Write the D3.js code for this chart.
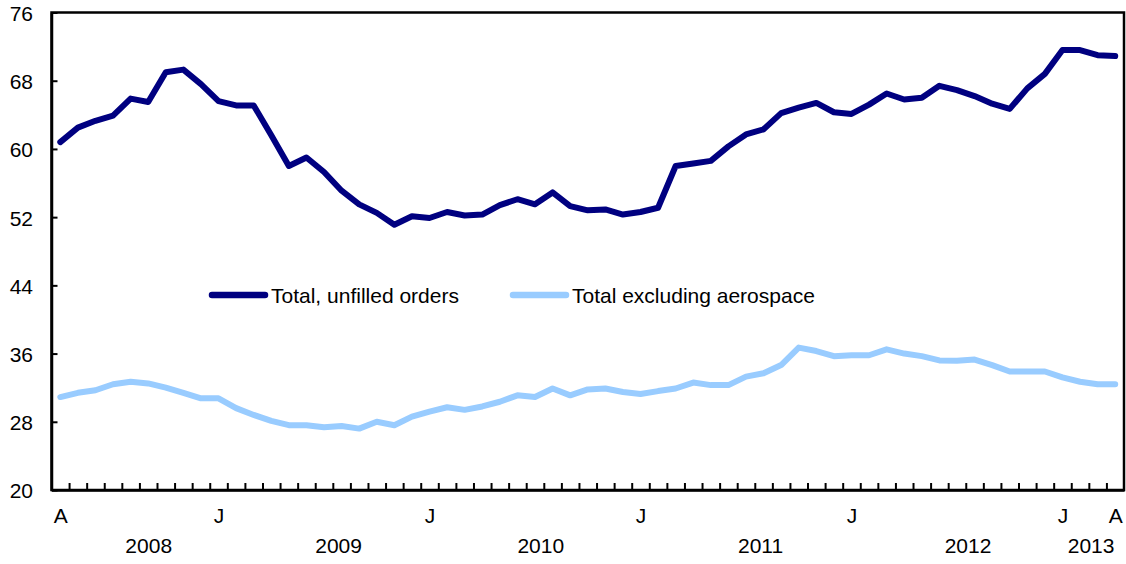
<!DOCTYPE html>
<html>
<head>
<meta charset="utf-8">
<script src="https://cdn.jsdelivr.net/npm/d3@7"></script>
<style>
  body { margin: 0; background: #ffffff; }
  svg { display: block; }
</style>
</head>
<body>
<script>
// monthly, April 2008 to April 2013 (billions of dollars)
var months = d3.range(61);
var unfilled = [
  60.8, 62.5, 63.3, 63.9, 65.9, 65.5, 69.0, 69.3, 67.6, 65.6,
  65.1, 65.1, 61.6, 58.0, 59.0, 57.3, 55.1, 53.5, 52.5, 51.1,
  52.1, 51.9, 52.6, 52.2, 52.3, 53.4, 54.1, 53.5, 54.9, 53.3,
  52.8, 52.9, 52.3, 52.6, 53.1, 58.0, 58.3, 58.6, 60.3, 61.7,
  62.3, 64.2, 64.85, 65.4, 64.3, 64.1, 65.2, 66.5, 65.8, 66.0,
  67.4, 66.9, 66.2, 65.3, 64.7, 67.1, 68.8, 71.6, 71.6, 71.0,
  70.9
];
var exAerospace = [
  30.9, 31.4, 31.7, 32.4, 32.7, 32.5, 32.0, 31.4, 30.75, 30.75,
  29.6, 28.8, 28.1, 27.6, 27.6, 27.35, 27.5, 27.2, 28.0, 27.6,
  28.6, 29.2, 29.7, 29.4, 29.8, 30.35, 31.1, 30.9, 31.9, 31.1,
  31.8, 31.9, 31.5, 31.25, 31.6, 31.9, 32.6, 32.3, 32.3, 33.3,
  33.7, 34.65, 36.7, 36.3, 35.7, 35.8, 35.8, 36.5, 36.0, 35.7,
  35.2, 35.15, 35.3, 34.65, 33.9, 33.9, 33.9, 33.2, 32.7, 32.4,
  32.4
];
var yTicks = [20, 28, 36, 44, 52, 60, 68, 76];
var monthTickAt = [0, 9, 21, 33, 45, 57, 60];
var monthTickText = ["A", "J", "J", "J", "J", "J", "A"];
var yearText = ["2008", "2009", "2010", "2011", "2012", "2013"];
var yearAt = [5, 15.8, 27.3, 39.8, 51.6, 58.6];
var seriesNames = ["Total, unfilled orders", "Total excluding aerospace"];
var seriesColors = ["#000080", "#99ccff"];

var w = 1126;
var h = 564;
var plotLeft = 51.5, plotRight = 1124, plotTop = 12.5, plotBottom = 490;
var font = "'Liberation Sans', Arial, Helvetica, sans-serif";

var svg = d3.select("body").append("svg").attr("width", w).attr("height", h);

var x = d3.scaleLinear().domain([-0.5, 60.5]).range([plotLeft, plotRight]);
var y = d3.scaleLinear().domain([20, 76]).range([plotBottom, plotTop]);

// frame
svg.append("rect")
  .attr("x", plotLeft)
  .attr("y", plotTop)
  .attr("width", plotRight - plotLeft)
  .attr("height", plotBottom - plotTop)
  .attr("fill", "none")
  .attr("stroke", "#000")
  .attr("stroke-width", 2.5);

// y axis, ticks pointing inward
var yAxis = svg.append("g")
  .attr("transform", "translate(" + plotLeft + ",0)")
  .call(d3.axisLeft(y).tickValues(yTicks).tickSizeInner(-6).tickSizeOuter(0).tickPadding(18.5));
yAxis.select(".domain").attr("stroke-width", 2.5);
yAxis.selectAll(".tick line").attr("stroke-width", 2);
yAxis.selectAll("text")
  .attr("dy", "0.38em")
  .attr("font-family", font)
  .attr("font-size", 21)
  .attr("fill", "#000");

// month tick marks between months
var monthMarks = d3.range(60).map(function (d) { return d + 0.5; });
var xMinor = svg.append("g")
  .attr("transform", "translate(0," + plotBottom + ")")
  .call(d3.axisBottom(x).tickValues(monthMarks).tickSizeInner(-7).tickSizeOuter(0).tickFormat(""));
xMinor.select(".domain").attr("stroke-width", 2.5);
xMinor.selectAll(".tick line").attr("stroke-width", 2);

// month letters
var xAxis = svg.append("g")
  .attr("transform", "translate(0," + plotBottom + ")")
  .call(d3.axisBottom(x).tickValues(monthTickAt).tickSize(0)
    .tickFormat(function (d, i) { return monthTickText[i]; }));
xAxis.select(".domain").remove();
xAxis.selectAll("text")
  .attr("y", 33)
  .attr("dy", 0)
  .attr("font-family", font)
  .attr("font-size", 21)
  .attr("fill", "#000");

// year labels
var yearAxis = svg.append("g")
  .attr("transform", "translate(0," + plotBottom + ")")
  .call(d3.axisBottom(x).tickValues(yearAt).tickSize(0)
    .tickFormat(function (d, i) { return yearText[i]; }));
yearAxis.select(".domain").remove();
yearAxis.selectAll("text")
  .attr("y", 63)
  .attr("dy", 0)
  .attr("font-family", font)
  .attr("font-size", 21)
  .attr("fill", "#000");

// lines
var line = d3.line()
  .x(function (d, i) { return x(months[i]); })
  .y(function (d) { return y(d); });

svg.append("path")
  .datum(exAerospace)
  .attr("d", line)
  .attr("fill", "none")
  .attr("stroke", seriesColors[1])
  .attr("stroke-width", 6)
  .attr("stroke-linejoin", "round")
  .attr("stroke-linecap", "round");

svg.append("path")
  .datum(unfilled)
  .attr("d", line)
  .attr("fill", "none")
  .attr("stroke", seriesColors[0])
  .attr("stroke-width", 6)
  .attr("stroke-linejoin", "round")
  .attr("stroke-linecap", "round");

// legend
var legendX = [212, 513];
var legend = svg.selectAll(".legend")
  .data(seriesNames)
  .enter()
  .append("g")
  .attr("class", "legend")
  .attr("transform", function (d, i) { return "translate(" + legendX[i] + ",295)"; });

legend.append("line")
  .attr("x1", 0)
  .attr("x2", 53)
  .attr("stroke", function (d, i) { return seriesColors[i]; })
  .attr("stroke-width", 6.5)
  .attr("stroke-linecap", "round");

legend.append("text")
  .text(function (d) { return d; })
  .attr("x", 59)
  .attr("y", 7.5)
  .attr("font-family", font)
  .attr("font-size", 21)
  .attr("fill", "#000");
</script>
</body>
</html>
